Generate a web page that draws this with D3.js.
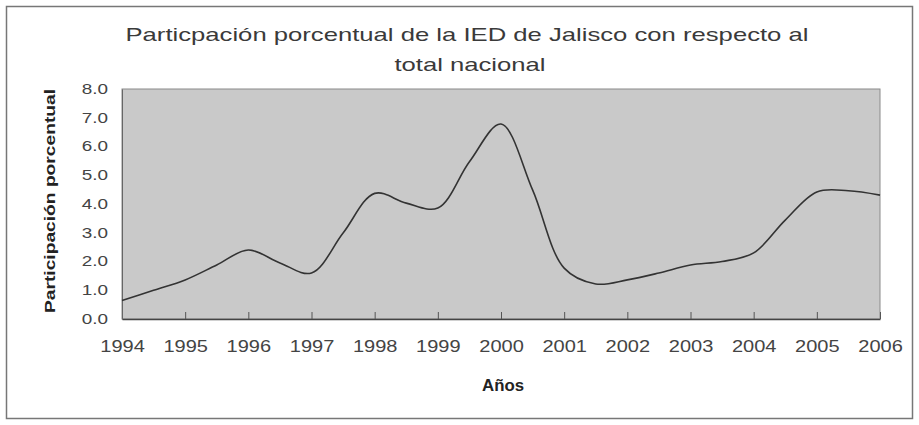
<!DOCTYPE html>
<html>
<head>
<meta charset="utf-8">
<script src="https://cdn.jsdelivr.net/npm/d3@7"></script>
<style>
  body { margin: 0; background: #fff; }
  text { font-family: "Liberation Sans", Arial, sans-serif; }
</style>
</head>
<body>
<svg></svg>
<script>
const width = 919, height = 425;
const margin = {top: 89, right: 39, bottom: 106, left: 122};

// semester points (year + 0 / 0.5)
const periods = [1994, 1994.5, 1995, 1995.5, 1996, 1996.5, 1997, 1997.5, 1998, 1998.5,
                 1999, 1999.5, 2000, 2000.5, 2001, 2001.5, 2002, 2002.5, 2003, 2003.5,
                 2004, 2004.5, 2005, 2005.5, 2006];
const shares = [0.64, 1.0, 1.36, 1.88, 2.4, 1.95, 1.6, 2.99, 4.37, 4.03,
                3.86, 5.47, 6.78, 4.49, 1.77, 1.22, 1.36, 1.6, 1.88, 2.0,
                2.3, 3.44, 4.42, 4.46, 4.31];
const yearLabels = d3.range(1994, 2007);
const yTicks = [0, 1, 2, 3, 4, 5, 6, 7, 8];

// text in the original is drawn wide, so widen glyphs horizontally
const widen = 1.35;
function stretch(sel, k) {
  sel.each(function() {
    const len = this.getComputedTextLength();
    d3.select(this)
      .attr("textLength", len * k)
      .attr("lengthAdjust", "spacingAndGlyphs");
  });
}

const svg = d3.select("svg")
  .attr("width", width)
  .attr("height", height);

// outer frame
svg.append("rect")
  .attr("x", 6.5).attr("y", 6.5)
  .attr("width", 906).attr("height", 412)
  .attr("fill", "#fff")
  .attr("stroke", "#777")
  .attr("stroke-width", 1.5);

const w = width - margin.left - margin.right,
      h = height - margin.top - margin.bottom;

const x = d3.scaleLinear().domain([1994, 2006]).range([0, w]);
const y = d3.scaleLinear().domain([0, 8]).range([h, 0]);

const chart = svg.append("g")
  .attr("transform", "translate(" + margin.left + "," + margin.top + ")");

// plot area
chart.append("rect")
  .attr("width", w).attr("height", h)
  .attr("fill", "#c9c9c9")
  .attr("stroke", "#8a8a8a")
  .attr("stroke-width", 1);

// x axis (ticks point inwards)
const xAxis = chart.append("g")
  .attr("transform", "translate(0," + h + ")")
  .call(d3.axisBottom(x).tickValues(yearLabels).tickFormat(d3.format("d"))
        .tickSizeInner(-7).tickSizeOuter(0).tickPadding(22));
xAxis.select(".domain").attr("stroke", "#444").attr("stroke-width", 1.5);
xAxis.selectAll(".tick line").attr("stroke", "#555");
xAxis.selectAll(".tick text")
  .attr("fill", "#444").attr("font-size", 16)
  .attr("font-family", "'Liberation Sans', Arial, sans-serif")
  .call(stretch, 1.25);

// y axis
const yAxis = chart.append("g")
  .call(d3.axisLeft(y).tickValues(yTicks).tickFormat(d3.format(".1f"))
        .tickSize(0).tickPadding(14));
yAxis.select(".domain").attr("stroke", "#666");
yAxis.selectAll(".tick text")
  .attr("fill", "#444").attr("font-size", 14)
  .attr("font-family", "'Liberation Sans', Arial, sans-serif")
  .call(stretch, widen);

// series
const line = d3.line()
  .x((d, i) => x(periods[i]))
  .y(d => y(d))
  .curve(d3.curveCatmullRom.alpha(0.5));

chart.append("path")
  .datum(shares)
  .attr("fill", "none")
  .attr("stroke", "#333")
  .attr("stroke-width", 1.6)
  .attr("d", line);

// title
svg.append("text")
  .attr("x", 467).attr("y", 41)
  .attr("text-anchor", "middle")
  .attr("font-size", 19)
  .attr("fill", "#3a3a3a")
  .text("Particpación porcentual de la IED de Jalisco con respecto al")
  .call(stretch, widen);
svg.append("text")
  .attr("x", 470).attr("y", 71)
  .attr("text-anchor", "middle")
  .attr("font-size", 19)
  .attr("fill", "#3a3a3a")
  .text("total nacional")
  .call(stretch, widen);

// axis titles
svg.append("text")
  .attr("transform", "translate(55," + (margin.top + h / 2 - 3) + ") rotate(-90)")
  .attr("text-anchor", "middle")
  .attr("font-size", 15)
  .attr("font-weight", "bold")
  .attr("fill", "#222")
  .text("Participación porcentual")
  .call(stretch, 1.28);

svg.append("text")
  .attr("x", margin.left + w / 2 + 2).attr("y", 391)
  .attr("text-anchor", "middle")
  .attr("font-size", 16)
  .attr("font-weight", "bold")
  .attr("fill", "#222")
  .text("Años")
  .call(stretch, 1.05);
</script>
</body>
</html>
